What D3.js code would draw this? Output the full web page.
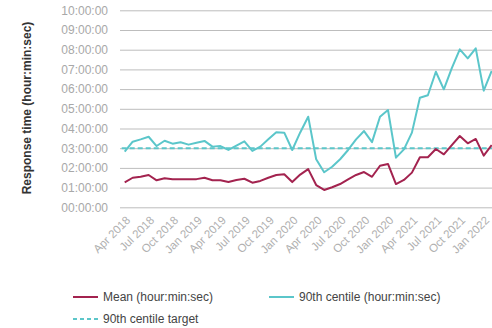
<!DOCTYPE html>
<html><head><meta charset="utf-8">
<script src="https://cdn.jsdelivr.net/npm/d3@7"></script>
<style>body{margin:0;background:#fff;}svg{display:block;font-family:"Liberation Sans",Arial,sans-serif;}</style>
</head><body><svg id="c" width="492" height="328"></svg>
<script>
const months = ["Apr 2018","May 2018","Jun 2018","Jul 2018","Aug 2018","Sep 2018","Oct 2018","Nov 2018","Dec 2018",
"Jan 2019","Feb 2019","Mar 2019","Apr 2019","May 2019","Jun 2019","Jul 2019","Aug 2019","Sep 2019","Oct 2019","Nov 2019","Dec 2019",
"Jan 2020","Feb 2020","Mar 2020","Apr 2020","May 2020","Jun 2020","Jul 2020","Aug 2020","Sep 2020","Oct 2020","Nov 2020","Dec 2020",
"Jan 2021","Feb 2021","Mar 2021","Apr 2021","May 2021","Jun 2021","Jul 2021","Aug 2021","Sep 2021","Oct 2021","Nov 2021","Dec 2021",
"Jan 2022","Feb 2022"];
// hours (decimal)
const meanHours = [1.27,1.50,1.55,1.64,1.37,1.47,1.42,1.43,1.42,1.43,1.50,1.37,1.37,1.28,1.39,1.45,1.25,1.34,1.50,1.64,1.68,1.28,1.66,1.94,
1.13,0.88,1.02,1.18,1.42,1.64,1.79,1.55,2.11,2.20,1.18,1.39,1.76,2.54,2.54,2.96,2.69,3.16,3.62,3.25,3.47,2.62,3.16];
const p90Hours = [2.82,3.33,3.45,3.58,3.11,3.38,3.23,3.30,3.18,3.28,3.37,3.08,3.11,2.91,3.13,3.35,2.86,3.08,3.45,3.81,3.79,2.91,3.80,4.60,
2.44,1.78,2.06,2.44,2.91,3.45,3.87,3.31,4.60,4.94,2.52,2.94,3.79,5.56,5.69,6.88,5.99,7.06,8.02,7.56,8.07,5.92,6.93];
const targetHours = 3;
const yTicks = [0,1,2,3,4,5,6,7,8,9,10];
const xTickLabels = ["Apr 2018","Jul 2018","Oct 2018","Jan 2019","Apr 2019","Jul 2019","Oct 2019","Jan 2020","Apr 2020","Jul 2020","Oct 2020","Jan 2020","Apr 2021","Jul 2021","Oct 2021","Jan 2022"];
const xTickMonths = ["Apr 2018","Jul 2018","Oct 2018","Jan 2019","Apr 2019","Jul 2019","Oct 2019","Jan 2020","Apr 2020","Jul 2020","Oct 2020","Jan 2021","Apr 2021","Jul 2021","Oct 2021","Jan 2022"];
const seriesNames = ["Mean (hour:min:sec)","90th centile (hour:min:sec)","90th centile target"];

const svg = d3.select("#c");
const x = d3.scalePoint().domain(months).range([124.7, 491.7]);
const y = d3.scaleLinear().domain([0,10]).range([207.3, 10.3]);
const fmt = h => String(h).padStart(2,"0") + ":00:00";

// gridlines + y labels
const yAxis = d3.axisLeft(y).tickValues(yTicks).tickFormat(fmt).tickSize(-372).tickPadding(12);
const gy = svg.append("g").attr("transform","translate(120,0)").call(yAxis);
gy.select(".domain").remove();
gy.selectAll(".tick line").attr("stroke","#bdbdbd").attr("stroke-width",1);
gy.selectAll(".tick text").attr("fill","#a8a8a8").attr("font-size","12px");

// x tick labels
const tickMap = new Map(xTickMonths.map((m,i)=>[m, xTickLabels[i]]));
const xAxis = d3.axisBottom(x).tickValues(xTickMonths).tickFormat(m => tickMap.get(m)).tickSize(0).tickPadding(0);
const gx = svg.append("g").attr("transform","translate(0,216)").call(xAxis);
gx.select(".domain").remove();
gx.selectAll(".tick text").attr("fill","#b0b0b0").attr("font-size","11.5px")
  .attr("text-anchor","end").attr("dy","0.35em").attr("dx","0")
  .attr("transform","translate(3,2) rotate(-45)");

// y title
svg.append("text").attr("transform","translate(31,108) rotate(-90)").attr("text-anchor","middle")
  .attr("font-size","12px").attr("font-weight","bold").attr("fill","#333").text("Response time (hour:min:sec)");

const line = d3.line().x((d,i)=>x(months[i])).y(d=>y(d));
// target
svg.append("line").attr("x1",x(months[0])-3).attr("x2",492).attr("y1",y(targetHours)).attr("y2",y(targetHours))
  .attr("stroke","#5cc6c9").attr("stroke-width",2).attr("stroke-dasharray","5,3");
svg.append("path").datum(p90Hours).attr("d",line).attr("fill","none").attr("stroke","#5bc6ca").attr("stroke-width",2).attr("stroke-linejoin","round");
svg.append("path").datum(meanHours).attr("d",line).attr("fill","none").attr("stroke","#a3234f").attr("stroke-width",2).attr("stroke-linejoin","round");

// legend
const leg = [
  {name:seriesNames[0], x:73, y:297, color:"#a3234f", dash:null},
  {name:seriesNames[1], x:269, y:297, color:"#5bc6ca", dash:null},
  {name:seriesNames[2], x:73, y:319, color:"#5cc6c9", dash:"4,3"}
];
const lg = svg.append("g").selectAll("g").data(leg).join("g").attr("transform",d=>`translate(${d.x},${d.y})`);
lg.append("line").attr("x1",0).attr("x2",25).attr("stroke",d=>d.color).attr("stroke-width",2).attr("stroke-dasharray",d=>d.dash);
lg.append("text").attr("x",30).attr("dy","0.35em").attr("font-size","12px").attr("fill","#444").text(d=>d.name);
</script></body></html>
